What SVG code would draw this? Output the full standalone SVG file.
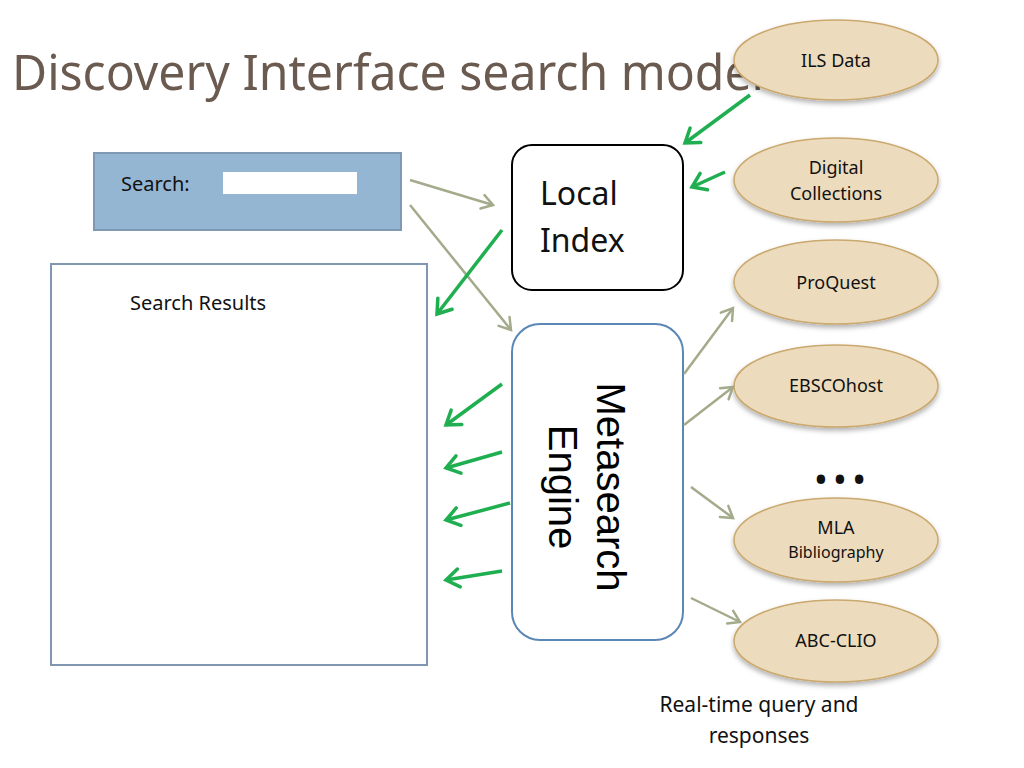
<svg xmlns="http://www.w3.org/2000/svg" width="1024" height="768" viewBox="0 0 1024 768">
<style>
  .t{font-family:"Noto Sans","DejaVu Sans",sans-serif;fill:#111}
  .ell{fill:#ecdcbd;stroke:#caa86e;stroke-width:1.5}
  .gray{stroke:#a3ab8b;stroke-width:2.5;fill:none;marker-end:url(#ga)}
  .grn{stroke:#1fae50;stroke-width:3.5;fill:none;marker-end:url(#gr)}
</style>
<defs>
  <marker id="ga" markerWidth="1" markerHeight="1" refX="0" refY="0" markerUnits="userSpaceOnUse" orient="auto" overflow="visible">
    <path d="M-11,-7 L0,0 L-11,7" fill="none" stroke="#a3ab8b" stroke-width="2.5" stroke-linecap="round" stroke-linejoin="miter"/>
  </marker>
  <marker id="gr" markerWidth="1" markerHeight="1" refX="0" refY="0" markerUnits="userSpaceOnUse" orient="auto" overflow="visible">
    <path d="M-13,-9 L0,0 L-13,9" fill="none" stroke="#1fae50" stroke-width="3.5" stroke-linecap="round" stroke-linejoin="miter"/>
  </marker>
  <filter id="sh" x="-20%" y="-20%" width="140%" height="150%">
    <feDropShadow dx="0" dy="3" stdDeviation="2.5" flood-color="#000" flood-opacity="0.3"/>
  </filter>
</defs>
<rect width="1024" height="768" fill="#fff"/>
<text x="12" y="90" font-family="'Noto Sans','DejaVu Sans',sans-serif" font-size="50" fill="#6b5a4f" textLength="752" lengthAdjust="spacingAndGlyphs">Discovery Interface search model</text>

<g id="search-box">
  <rect x="94" y="153" width="307" height="77" fill="#94b6d3" stroke="#7d99b4" stroke-width="2"/>
  <rect x="223" y="172" width="134" height="22" fill="#fff"/>
  <text class="t" x="121" y="191" font-size="20">Search:</text>
</g>
<g id="search-results">
  <rect x="51" y="264" width="376" height="401" fill="#fff" stroke="#8197b1" stroke-width="2"/>
  <text class="t" x="130" y="310" font-size="20">Search Results</text>
</g>
<g id="local-index">
  <rect x="512" y="145" width="171" height="145" rx="20" fill="#fff" stroke="#000" stroke-width="2"/>
  <text class="t" x="540" y="205" font-size="32">Local</text>
  <text class="t" x="540" y="252" font-size="32">Index</text>
</g>
<g id="metasearch-engine">
  <rect x="512" y="324" width="171" height="316" rx="28" fill="#fff" stroke="#5b87b6" stroke-width="2"/>
  <text transform="translate(597,487) rotate(90)" text-anchor="middle" font-family="'Liberation Sans',Arial,sans-serif" font-size="40" fill="#000">Metasearch</text>
  <text transform="translate(549,487) rotate(90)" text-anchor="middle" font-family="'Liberation Sans',Arial,sans-serif" font-size="40" fill="#000">Engine</text>
</g>
<g id="ils-data">
  <ellipse class="ell" cx="836" cy="60" rx="102" ry="40" filter="url(#sh)"/>
  <text class="t" x="836" y="67" font-size="18" text-anchor="middle">ILS Data</text>
</g>
<g id="digital-collections">
  <ellipse class="ell" cx="836" cy="180" rx="102" ry="42" filter="url(#sh)"/>
  <text class="t" x="836" y="174" font-size="18" text-anchor="middle">Digital</text>
  <text class="t" x="836" y="200" font-size="18" text-anchor="middle">Collections</text>
</g>
<g id="proquest">
  <ellipse class="ell" cx="836" cy="282" rx="102" ry="42" filter="url(#sh)"/>
  <text class="t" x="836" y="289" font-size="18" text-anchor="middle">ProQuest</text>
</g>
<g id="ebscohost">
  <ellipse class="ell" cx="836" cy="386" rx="102" ry="41" filter="url(#sh)"/>
  <text class="t" x="836" y="392" font-size="18" text-anchor="middle">EBSCOhost</text>
</g>
<g id="ellipsis">
  <text class="t" x="840" y="490" font-size="30" font-weight="bold" text-anchor="middle">• • •</text>
</g>
<g id="mla">
  <ellipse class="ell" cx="836" cy="540" rx="102" ry="42" filter="url(#sh)"/>
  <text class="t" x="836" y="534" font-size="18" text-anchor="middle">MLA</text>
  <text class="t" x="836" y="558" font-size="16" text-anchor="middle">Bibliography</text>
</g>
<g id="abc-clio">
  <ellipse class="ell" cx="836" cy="641" rx="102" ry="41" filter="url(#sh)"/>
  <text class="t" x="836" y="647" font-size="18" text-anchor="middle">ABC-CLIO</text>
</g>
<g id="caption">
  <text class="t" x="759" y="712" font-size="21" text-anchor="middle">Real-time query and</text>
  <text class="t" x="759" y="743" font-size="21" text-anchor="middle">responses</text>
</g>

<g id="connectors">
  <line class="gray" x1="410" y1="180" x2="493" y2="205"/>
  <line class="gray" x1="410" y1="205" x2="511" y2="330"/>
  <line class="gray" x1="684" y1="374" x2="733" y2="308"/>
  <line class="gray" x1="684" y1="425" x2="733" y2="387"/>
  <line class="gray" x1="691" y1="487" x2="733" y2="518"/>
  <line class="gray" x1="691" y1="598" x2="740" y2="622"/>
  <line class="grn" x1="750" y1="95" x2="685" y2="143"/>
  <line class="grn" x1="725" y1="172" x2="692" y2="187"/>
  <line class="grn" x1="502" y1="230" x2="437" y2="314"/>
  <line class="grn" x1="502" y1="384" x2="446" y2="425"/>
  <line class="grn" x1="502" y1="452" x2="446" y2="468"/>
  <line class="grn" x1="510" y1="503" x2="446" y2="520"/>
  <line class="grn" x1="502" y1="571" x2="446" y2="580"/>
</g>
</svg>
